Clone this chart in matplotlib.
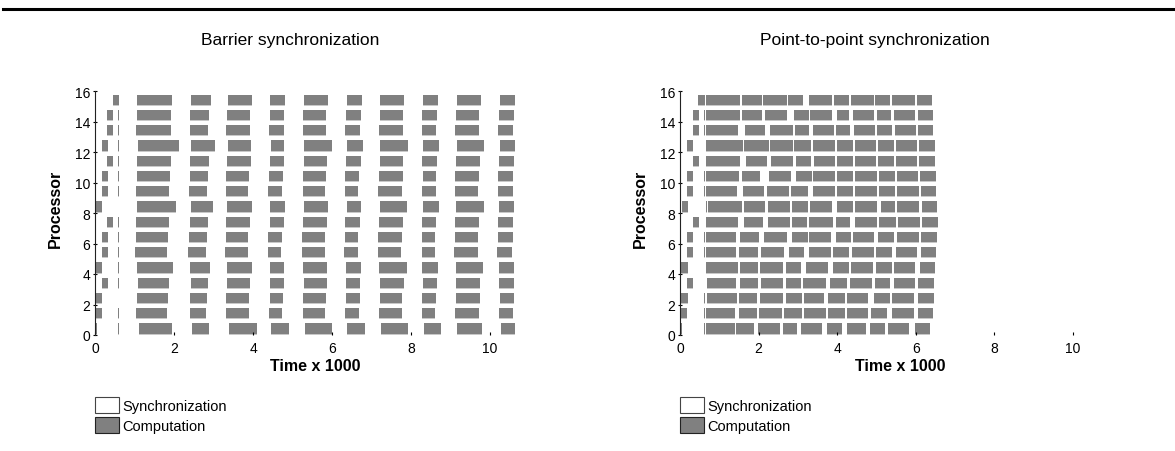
import matplotlib
matplotlib.use("Agg")
import matplotlib.pyplot as plt
from matplotlib.patches import Rectangle
from matplotlib.lines import Line2D

plt.rcParams['font.family'] = ['Liberation Sans', 'DejaVu Sans']

titles = ["Barrier synchronization", "Point-to-point synchronization"]
legend_labels = ["Synchronization", "Computation"]
x_ticks = [0, 2, 4, 6, 8, 10]
y_ticks = [0, 2, 4, 6, 8, 10, 12, 14, 16]

# computation intervals (start, end), time x 1000; one row per processor 0..15
barrier_bars = [
    [(0.0, 0.05), (0.575, 0.60), (1.11, 1.95), (2.46, 2.89), (3.39, 4.10), (4.46, 4.91), (5.32, 6.00), (6.38, 6.84), (7.24, 7.92), (8.33, 8.76), (9.16, 9.80), (10.28, 10.63)],
    [(0.03, 0.18), (0.575, 0.60), (1.04, 1.82), (2.41, 2.81), (3.32, 3.90), (4.41, 4.73), (5.27, 5.82), (6.33, 6.68), (7.19, 7.77), (8.28, 8.61), (9.11, 9.72), (10.23, 10.58)],
    [(0.03, 0.18), (1.06, 1.85), (2.41, 2.84), (3.32, 3.90), (4.43, 4.76), (5.27, 5.85), (6.35, 6.71), (7.22, 7.77), (8.28, 8.63), (9.14, 9.75), (10.25, 10.61)],
    [(0.18, 0.33), (0.575, 0.60), (1.09, 1.87), (2.43, 2.86), (3.34, 3.92), (4.43, 4.78), (5.29, 5.87), (6.35, 6.71), (7.22, 7.82), (8.30, 8.66), (9.14, 9.75), (10.23, 10.61)],
    [(0.03, 0.18), (0.575, 0.60), (1.06, 1.97), (2.41, 2.91), (3.34, 3.97), (4.43, 4.78), (5.27, 5.87), (6.35, 6.73), (7.19, 7.90), (8.28, 8.68), (9.14, 9.82), (10.23, 10.61)],
    [(0.18, 0.33), (0.575, 0.60), (1.01, 1.82), (2.35, 2.81), (3.29, 3.87), (4.38, 4.71), (5.24, 5.82), (6.30, 6.66), (7.16, 7.75), (8.28, 8.61), (9.08, 9.70), (10.18, 10.56)],
    [(0.18, 0.33), (0.575, 0.60), (1.04, 1.85), (2.38, 2.84), (3.32, 3.87), (4.38, 4.73), (5.24, 5.82), (6.33, 6.66), (7.16, 7.77), (8.28, 8.61), (9.11, 9.70), (10.20, 10.58)],
    [(0.30, 0.46), (0.575, 0.60), (1.04, 1.87), (2.41, 2.86), (3.32, 3.92), (4.43, 4.78), (5.27, 5.87), (6.33, 6.71), (7.19, 7.80), (8.28, 8.63), (9.11, 9.72), (10.20, 10.58)],
    [(0.03, 0.18), (1.06, 2.05), (2.43, 2.99), (3.34, 3.97), (4.43, 4.81), (5.29, 5.90), (6.38, 6.73), (7.22, 7.90), (8.30, 8.71), (9.14, 9.85), (10.23, 10.61)],
    [(0.18, 0.33), (0.575, 0.60), (1.04, 1.87), (2.38, 2.84), (3.32, 3.87), (4.38, 4.73), (5.27, 5.82), (6.33, 6.66), (7.16, 7.77), (8.28, 8.63), (9.11, 9.70), (10.20, 10.58)],
    [(0.18, 0.33), (0.575, 0.60), (1.06, 1.90), (2.41, 2.86), (3.32, 3.90), (4.41, 4.76), (5.27, 5.85), (6.33, 6.68), (7.19, 7.80), (8.30, 8.63), (9.11, 9.72), (10.20, 10.58)],
    [(0.30, 0.46), (0.575, 0.60), (1.06, 1.92), (2.41, 2.89), (3.34, 3.95), (4.43, 4.78), (5.29, 5.87), (6.35, 6.73), (7.22, 7.80), (8.28, 8.66), (9.14, 9.75), (10.23, 10.61)],
    [(0.18, 0.33), (0.575, 0.60), (1.09, 2.13), (2.43, 3.04), (3.37, 3.95), (4.46, 4.78), (5.29, 6.00), (6.38, 6.79), (7.22, 7.92), (8.30, 8.71), (9.16, 9.85), (10.25, 10.63)],
    [(0.30, 0.46), (0.575, 0.60), (1.04, 1.92), (2.41, 2.86), (3.32, 3.92), (4.41, 4.78), (5.27, 5.85), (6.33, 6.71), (7.19, 7.80), (8.28, 8.63), (9.11, 9.72), (10.20, 10.58)],
    [(0.30, 0.46), (0.575, 0.60), (1.06, 1.92), (2.41, 2.89), (3.34, 3.92), (4.43, 4.78), (5.27, 5.85), (6.35, 6.73), (7.22, 7.80), (8.28, 8.66), (9.14, 9.72), (10.23, 10.61)],
    [(0.45, 0.61), (1.06, 1.95), (2.43, 2.94), (3.37, 3.97), (4.43, 4.81), (5.29, 5.90), (6.38, 6.76), (7.22, 7.82), (8.30, 8.68), (9.16, 9.77), (10.25, 10.63)],
]

p2p_bars = [
    [(0.0, 0.04), (0.60, 0.625), (0.66, 1.40), (1.42, 1.88), (1.98, 2.54), (2.62, 2.98), (3.08, 3.61), (3.74, 4.12), (4.24, 4.74), (4.84, 5.22), (5.30, 5.83), (5.98, 6.36)],
    [(0.03, 0.18), (0.60, 0.625), (0.66, 1.40), (1.50, 1.96), (2.01, 2.60), (2.65, 3.10), (3.16, 3.71), (3.77, 4.19), (4.26, 4.79), (4.87, 5.27), (5.39, 5.95), (6.06, 6.44)],
    [(0.03, 0.20), (0.60, 0.625), (0.69, 1.45), (1.50, 1.96), (2.03, 2.62), (2.70, 3.10), (3.16, 3.66), (3.77, 4.19), (4.24, 4.79), (4.94, 5.34), (5.39, 5.95), (6.06, 6.47)],
    [(0.18, 0.33), (0.69, 1.42), (1.53, 1.98), (2.06, 2.62), (2.70, 3.08), (3.13, 3.71), (3.82, 4.24), (4.33, 4.89), (4.96, 5.34), (5.44, 5.99), (6.06, 6.47)],
    [(0.03, 0.20), (0.66, 1.48), (1.53, 1.98), (2.03, 2.62), (2.70, 3.08), (3.21, 3.77), (3.89, 4.30), (4.35, 4.91), (4.99, 5.39), (5.44, 5.99), (6.11, 6.49)],
    [(0.18, 0.33), (0.60, 0.625), (0.66, 1.42), (1.50, 1.98), (2.06, 2.65), (2.77, 3.16), (3.28, 3.84), (3.89, 4.30), (4.38, 4.94), (4.99, 5.39), (5.49, 6.03), (6.13, 6.52)],
    [(0.18, 0.33), (0.60, 0.625), (0.66, 1.42), (1.53, 2.01), (2.14, 2.72), (2.85, 3.26), (3.28, 3.84), (3.97, 4.35), (4.41, 4.94), (5.04, 5.45), (5.52, 6.08), (6.13, 6.54)],
    [(0.33, 0.48), (0.66, 1.48), (1.63, 2.11), (2.24, 2.80), (2.85, 3.23), (3.28, 3.90), (3.97, 4.32), (4.45, 5.01), (5.06, 5.50), (5.55, 6.11), (6.16, 6.56)],
    [(0.05, 0.20), (0.65, 0.675), (0.71, 1.58), (1.63, 2.16), (2.24, 2.80), (2.85, 3.26), (3.31, 3.87), (4.00, 4.41), (4.45, 5.01), (5.11, 5.47), (5.52, 6.08), (6.16, 6.54)],
    [(0.18, 0.33), (0.60, 0.625), (0.66, 1.45), (1.60, 2.14), (2.21, 2.77), (2.82, 3.26), (3.38, 3.94), (4.00, 4.41), (4.45, 5.01), (5.06, 5.47), (5.52, 6.08), (6.13, 6.52)],
    [(0.18, 0.33), (0.60, 0.625), (0.66, 1.50), (1.58, 2.04), (2.26, 2.82), (2.95, 3.36), (3.38, 3.94), (4.00, 4.41), (4.45, 5.01), (5.06, 5.47), (5.52, 6.06), (6.11, 6.52)],
    [(0.33, 0.48), (0.66, 1.53), (1.68, 2.21), (2.32, 2.88), (2.95, 3.33), (3.41, 3.94), (4.00, 4.41), (4.45, 4.99), (5.04, 5.45), (5.50, 6.03), (6.08, 6.49)],
    [(0.18, 0.33), (0.66, 1.60), (1.63, 2.26), (2.29, 2.88), (2.90, 3.33), (3.38, 3.94), (4.00, 4.41), (4.45, 4.99), (5.04, 5.45), (5.50, 6.03), (6.08, 6.49)],
    [(0.33, 0.48), (0.60, 0.625), (0.66, 1.48), (1.65, 2.16), (2.29, 2.88), (2.93, 3.28), (3.38, 3.92), (3.97, 4.32), (4.43, 4.96), (5.01, 5.39), (5.47, 6.00), (6.06, 6.44)],
    [(0.33, 0.48), (0.60, 0.625), (0.66, 1.53), (1.58, 2.09), (2.16, 2.72), (2.90, 3.28), (3.31, 3.87), (3.99, 4.30), (4.41, 4.94), (5.01, 5.37), (5.44, 5.98), (6.06, 6.44)],
    [(0.46, 0.60), (0.62, 0.645), (0.66, 1.53), (1.58, 2.09), (2.11, 2.72), (2.75, 3.13), (3.28, 3.87), (3.92, 4.30), (4.35, 4.94), (4.96, 5.34), (5.39, 5.98), (6.03, 6.41)],
]

W, H = 1175, 452
fig = plt.figure(figsize=(W / 100, H / 100), dpi=100)

# thick rule at the top
fig.add_artist(Line2D([3 / W, 1.0], [1 - 10 / H, 1 - 10 / H], color='black', lw=2.2))

panels = [(barrier_bars, 95, 426.6, 315), (p2p_bars, 680, 424.4, 900)]

for i, (rows, left_px, width_px, label_px) in enumerate(panels):
    ax = fig.add_axes([left_px / W, 116 / H, width_px / W, 244 / H])
    for p, bars in enumerate(rows):
        xr = [(s, e - s) for s, e in bars]
        ax.broken_barh(xr, (p + 0.02, 0.08), facecolors='#c8c8c8', linewidth=0)
        ax.broken_barh(xr, (p + 0.09, 0.68), facecolors='#808080', linewidth=0)
    ax.set_xlim(0, 10.8)
    ax.set_ylim(0, 16)
    for s in ['top', 'right', 'bottom']:
        ax.spines[s].set_visible(False)
    ax.spines['left'].set_linewidth(0.8)
    ax.spines['left'].set_color('#222222')
    ax.set_xticks(x_ticks)
    ax.set_yticks(y_ticks)
    ax.tick_params(axis='x', direction='in', length=2, width=0.8, labelsize=10, pad=4)
    ax.tick_params(axis='y', direction='inout', length=3, width=0.8, labelsize=10, pad=2)
    ax.set_xlabel("Time x 1000", fontsize=11.5, fontweight='bold')
    ax.xaxis.set_label_coords((label_px - left_px) / width_px, -0.095)
    ax.set_ylabel("Processor", fontsize=11.5, fontweight='bold')
    ax.yaxis.set_label_coords(-0.075, 0.52)

    fig.text((left_px + 195) / W, 1 - 40 / H, titles[i], ha='center', va='center', fontsize=12.5)

    # legend
    fig.add_artist(Rectangle((left_px / W, 1 - 414 / H), 24 / W, 16 / H, transform=fig.transFigure,
                             facecolor='white', edgecolor='#444444', lw=0.8))
    fig.add_artist(Rectangle((left_px / W, 1 - 434 / H), 24 / W, 16 / H, transform=fig.transFigure,
                             facecolor='#808080', edgecolor='#222222', lw=0.8))
    fig.text((left_px + 27) / W, 1 - 407 / H, legend_labels[0], ha='left', va='center', fontsize=10.5)
    fig.text((left_px + 27) / W, 1 - 427 / H, legend_labels[1], ha='left', va='center', fontsize=10.5)

fig.savefig("out.png", dpi=100)
